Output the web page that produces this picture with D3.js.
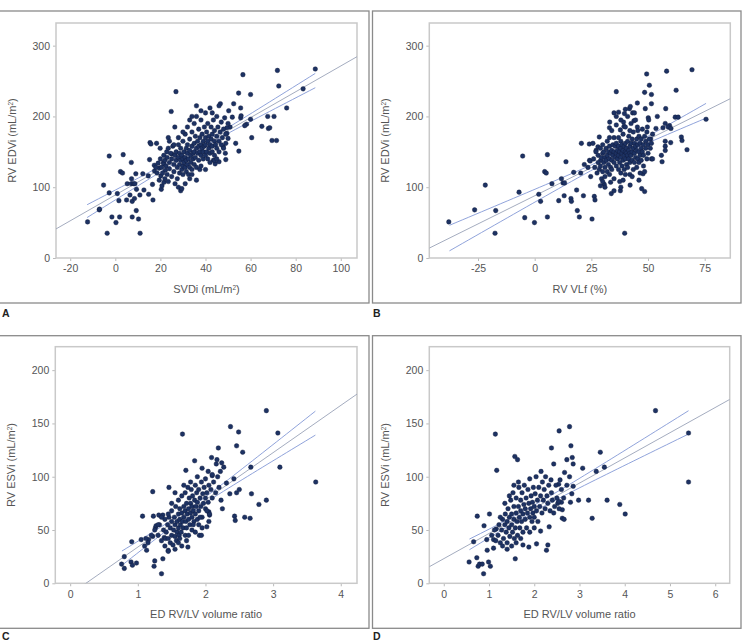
<!DOCTYPE html>
<meta charset="utf-8">
<html>
<head>
  <title>RV volume scatter plots</title>
  <style>
    body { margin: 0; background: #fff; }
    svg { display: block; font-family: "Liberation Sans", Arial, sans-serif; }
    .tick text { fill: #555; font-size: 10.5px; }
    .tick line, .domain { stroke: #bbb; }
  </style>
</head>
<body>
<svg id="chart" width="745" height="641"></svg>
<script src="https://d3js.org/d3.v7.min.js"></script>
<script>

// --- data ---
// A: SVDi vs RV EDVi
const ptsA = [
  [-12.3,51],[-7.1,68],[-7.0,69],[-3.6,35],[-5.2,103],[-2.7,144],[-2.7,92],[-1.5,58],[0.3,50],[0.9,91],
  [1.6,81],[1.9,58],[2.3,122],[3.2,120],[3.5,146],[5,82],[5.3,105],[6.5,89],[7.1,135],[7.2,112],
  [7.1,105],[8.1,105],[8.7,105],[7.5,80],[7.5,58],[8.5,84],[9.1,119],[9.4,97],[9.3,67],[10.3,55],
  [11,35],[10.9,89],[12.2,119],[12.7,96],[14.6,116],[14.8,90],[15.2,139],[15.4,163],[15.8,161],[16.7,82],
  [16.5,104],[17.3,131],[17.4,123],[18.3,162],[19.5,127],[19.9,155],[20.2,116],[20.4,97],[20.7,102],[21.3,135],
  [21.5,133],[21.6,107],[22.2,124],[22.8,150],[23.5,170],[23.5,108],[24.8,207],[25.1,147],[26.4,185],[26.9,235],
  [56.6,259],[71.9,265],[88.7,267],[72.5,243],[54.7,233],[60,231],[83.3,239],[76,212],[52.5,218],[46.6,218],
  [50.3,208],[55.6,212],[67.6,200],[70.4,200],[60,196],[55.6,198],[55.8,201],[51.9,199],[65,186],[67.9,183],
  [68.5,184],[58.2,189],[57.4,187],[50.9,185],[49.5,184],[60.5,170],[69.5,166],[71.5,166],[54.8,151],[53.4,162],
  [50,169],[49.5,176],[48.8,148],[49,139],[46,136],[47.9,157],[43.5,138],[44.3,133],
  [18,128],[18.5,120],[19,134],[19.5,110],[20,140],[20.5,128],[21,120],[21.5,145],[22,112],[22,138],
  [22.5,130],[23,142],[23,118],[23.5,155],[24,135],[24,126],[24.5,148],[25,140],[25,115],[25.5,158],
  [26,132],[26,122],[26.5,145],[26.5,105],[27,150],[27,138],[27.5,128],[27.5,112],[28,160],[28,142],
  [28.5,132],[28.5,120],[28.5,148],[29,138],[29,155],[29,95],[29.5,125],[29.5,145],[30,130],[30,140],
  [30,165],[30,118],[30.5,150],[30.5,135],[31,128],[31,142],[31,175],[31.5,122],[31.5,155],[31.5,138],
  [32,148],[32,132],[32,160],[32,185],[32.5,140],[32.5,118],[33,152],[33,128],[33,168],[33,195],
  [33.5,145],[33.5,135],[34,158],[34,125],[34,178],[34.5,148],[34.5,140],[35,162],[35,132],[35,190],
  [35,150],[35.5,172],[35.5,142],[36,155],[36,128],[36,200],[36.5,165],[36.5,148],[37,138],[37,158],
  [37,182],[37.5,150],[37.5,170],[37.5,125],[38,160],[38,145],[38,195],[38.5,155],[38.5,175],[39,140],
  [39,165],[39,150],[39.5,185],[39.5,158],[40,145],[40,170],[40,160],[40,205],[40.5,150],[40.5,178],
  [41,165],[41,140],[41,190],[41.5,155],[41.5,172],[42,160],[42,148],[42,212],[42.5,168],[42.5,185],
  [43,150],[43,175],[43,158],[43.5,195],[44,165],[44,145],[44,180],[44.5,160],[45,172],[45,155],
  [45,200],[45.5,185],[46,165],[46,150],[46,215],[46.5,178],[47,160],[47,192],[47.5,170],[48,182],
  [48,155],[48.5,198],[49,175],[49,162],[50,190],[36,110],[33,112],[31,105],[28,100],[29.5,98],
  [34,118],[38,130],[40,125],[42,135],[44,138],[45,140],[36,215],[38,208],[43,205],[34,200],
  [30,178],[28,170],[26,160],[24,165]
];

// B: RV VLf vs RV EDVi
const ptsB = [
  [-37.9,51],[-26.5,68],[-21.8,103],[-17.2,67],[-17.5,35],[-6.9,93],[-5.3,144],[-4.4,57],[-0.1,50],[1.8,90],
  [2.6,80],[4.4,122],[5.1,120],[5.6,146],[5.6,58],[7.6,105],[10.6,81],[11.8,112],[12.5,106],[13.2,106],
  [13,88],[13.8,136],[16,84],[16.2,80],[17.2,121],[18.5,96],[18.8,67],[19.7,58],[20.3,120],[20.6,162],
  [21.5,88],[21.9,132],[23.5,128],[24.2,138],[24.5,137],[24.1,161],[24.7,115],[25.3,55],[25.7,162],[26.3,87],
  [26.6,82],[27.1,152],[27.9,157],[28.5,171],[29.1,138],[30.7,104],
  [36,235],[37,206],[49.4,260],[58.2,264],[69.4,266],[50.6,244],[51.5,231],[48.5,234],[51.5,218],[48.8,211],
  [45.3,219],[41.8,211],[42.2,214],[43.2,205],[39.6,204],[39.2,192],[39.4,186],[37.8,181],[33.1,192],[33,184],
  [54.1,200],[50.1,198],[62,199],[63.3,199],[57.8,211],[62.4,237],[57.6,190],[59.5,187],[58.9,185],[60.1,183],
  [56.6,184],[49.7,185],[50.3,195],[53.5,183],[45.3,185],[43.8,194],[60,163],[57.6,165],[57.6,158],[57.6,152],
  [55.9,145],[56.2,136],[51.5,140],[51.2,168],[64.7,171],[65,166],[67.2,153],[75.6,196],[47.8,119],[48.5,94],
  [47.2,98],[42.1,103],[39.7,35],[33.8,91],[37.8,95],[33.5,107],
  [26,140],[26.5,128],[27,150],[27.5,120],[28,135],[28,145],[28.5,125],[29,155],[29,130],[29.5,112],
  [29.5,142],[30,148],[30,122],[30,160],[30.5,135],[30.5,150],[31,142],[31,128],[31,100],[31.5,155],
  [31.5,138],[32,145],[32,122],[32,165],[32.5,150],[32.5,132],[33,140],[33,158],[33,118],[33,170],
  [33.5,148],[33.5,128],[34,152],[34,138],[34,125],[34,180],[34.5,145],[34.5,160],[35,135],[35,150],
  [35,112],[35,170],[35.5,142],[35.5,158],[36,148],[36,130],[36,162],[36,188],[36.5,140],[36.5,152],
  [37,145],[37,125],[37,170],[37,158],[37.5,135],[37.5,150],[37.5,108],[38,155],[38,142],[38,165],
  [38,120],[38,195],[38.5,148],[38.5,130],[38.5,160],[39,152],[39,138],[39,175],[39,110],[39.5,145],
  [39.5,158],[39.5,125],[40,150],[40,140],[40,162],[40,185],[40,118],[40.5,155],[40.5,132],[40.5,148],
  [41,145],[41,165],[41,128],[41,200],[41.5,152],[41.5,140],[41.5,172],[42,158],[42,135],[42,148],
  [42,118],[42.5,162],[42.5,145],[42.5,190],[43,150],[43,138],[43,168],[43.5,155],[43.5,125],[43.5,178],
  [44,148],[44,162],[44,135],[44.5,158],[44.5,142],[44.5,195],[45,152],[45,168],[45,128],[45.5,160],
  [45.5,140],[45.5,180],[46,150],[46,135],[46,172],[46.5,162],[46.5,145],[46.5,120],[47,155],[47,168],
  [47,138],[47.5,150],[47.5,182],[48,160],[48,130],[48,145],[48.5,172],[48.5,122],[49,155],[49,165],
  [49.5,140],[49.5,178],[50,160],[50,148],[50.5,168],[51,155],[51.5,162],[52,140],[52,175],[36,200],
  [35,205],[40,210],[44,205],[42,180],[31,115],[30,108],[29,102],[35,95],[43,115],[46,110],[38,100]
];

// C: ED RV/LV volume ratio vs RV ESVi
const ptsC = [
  [0.76,18],[0.8,25],[0.8,14],[0.9,20],[0.92,17],[0.91,39],[0.98,19],[1.05,41],[1.07,63],[1.1,35],
  [1.13,31],[1.16,41],[1.22,44],[1.22,86],[1.23,63],[1.24,16],[1.25,21],[1.26,52],[1.27,54],[1.37,23],
  [1.35,9],[1.31,64],[1.37,64],[1.39,43],[1.41,42],[1.46,90],[1.45,31],[1.66,140],[1.71,106],[1.74,34],
  [1.84,115],[1.95,108],[2.04,105],[2.09,118],[2.1,101],[2.16,112],[2.17,116],[2.19,127],[2.24,113],[2.27,109],
  [2.31,94],[2.37,147],[2.23,78],[2.25,70],[2.36,84],[2.42,98],[2.43,63],[2.44,59],[2.46,85],[2.46,129],
  [2.49,142],[2.5,88],[2.55,123],[2.58,62],[2.66,61],[2.67,109],[2.68,84],[2.79,74],[2.9,162],[2.9,78],
  [3.07,141],[3.1,109],[3.63,95],[2.05,67],[2.06,64],[2.02,53],[1.91,45],[1.94,45],
  [1.3,45],[1.32,55],[1.35,40],[1.38,50],[1.4,60],[1.4,35],[1.42,48],[1.44,55],[1.45,42],[1.46,62],
  [1.48,38],[1.48,52],[1.5,45],[1.5,58],[1.5,68],[1.52,36],[1.53,50],[1.54,62],[1.55,44],[1.55,55],
  [1.56,72],[1.57,40],[1.58,58],[1.58,48],[1.6,65],[1.6,52],[1.6,78],[1.61,45],[1.62,60],[1.62,70],
  [1.63,55],[1.64,48],[1.65,66],[1.65,82],[1.66,58],[1.67,52],[1.68,72],[1.68,62],[1.7,45],[1.7,68],
  [1.7,85],[1.71,58],[1.72,75],[1.72,52],[1.73,65],[1.74,90],[1.75,60],[1.75,70],[1.76,80],[1.77,55],
  [1.78,66],[1.78,75],[1.79,88],[1.8,62],[1.8,72],[1.8,50],[1.81,82],[1.82,68],[1.83,58],[1.84,78],
  [1.85,92],[1.85,65],[1.86,72],[1.87,85],[1.88,60],[1.88,76],[1.9,68],[1.9,88],[1.9,55],[1.92,80],
  [1.93,72],[1.94,95],[1.95,62],[1.96,84],[1.97,75],[1.98,90],[2,70],[2,80],[2,98],[2.02,85],
  [2.04,76],[2.05,92],[2.06,65],[2.08,88],[2.1,80],[2.1,102],[2.12,95],[2.15,85],[2.18,100],[2.2,90],
  [2.22,105],[1.45,30],[1.55,32],[1.6,38],[1.65,35],[1.75,45],[1.85,48],[1.95,52],[2.05,58],[1.5,75],
  [1.55,85],[1.45,65],[1.35,62],[1.3,55],[1.25,50],[1.2,45],[1.15,38],[1.12,42],[1.68,92],[1.78,95],
  [1.88,100],[1.72,40],[1.62,42],[1.82,55],[1.92,62],[2.02,68]
];

// D: ED RV/LV volume ratio vs RV ESVi
const ptsD = [
  [0.56,20],[0.66,39],[0.74,63],[0.73,24],[0.76,16],[0.79,18],[0.88,9],[0.85,18],[0.89,54],[0.95,41],
  [0.96,31],[0.99,20],[1.01,65],[1.03,16],[1.06,45],[1.1,41],[1.14,140],[1.17,106],[1.16,51],[1.1,33],
  [1.57,119],[1.63,116],[1.58,23],[1.75,36],[1.88,34],[2.05,37],[2.27,31],[2.3,36],[2.14,49],[2.33,53],
  [2.37,97],[2.43,112],[2.38,127],[2.55,143],[2.57,97],[2.54,93],[2.67,104],[2.72,116],[2.78,147],[2.81,129],
  [2.84,118],[2.86,112],[2.83,84],[2.86,91],[2.72,92],[2.78,100],[2.6,76],[2.52,75],[2.62,69],[2.62,61],
  [2.66,60],[2.43,66],[2.54,77],[2.8,76],[2.98,78],[3.07,108],[3.2,78],[3.28,61],[3.37,105],[3.46,123],
  [3.55,109],[3.61,78],[3.89,74],[4.01,65],[4.68,162],[5.41,141],[5.41,95],
  [1.2,45],[1.22,55],[1.25,38],[1.28,50],[1.3,60],[1.32,42],[1.35,55],[1.36,65],[1.38,48],[1.4,58],
  [1.4,38],[1.42,70],[1.44,52],[1.45,62],[1.46,44],[1.48,78],[1.5,55],[1.5,65],[1.52,48],[1.53,85],
  [1.55,60],[1.55,72],[1.56,42],[1.58,52],[1.6,66],[1.6,80],[1.62,58],[1.63,45],[1.65,72],[1.66,90],
  [1.67,62],[1.68,52],[1.7,78],[1.7,68],[1.72,58],[1.73,85],[1.75,65],[1.75,48],[1.77,74],[1.78,92],
  [1.8,60],[1.8,70],[1.82,80],[1.83,52],[1.85,66],[1.86,88],[1.88,75],[1.9,62],[1.9,98],[1.92,70],
  [1.93,82],[1.95,58],[1.96,76],[1.97,66],[1.98,90],[2,72],[2,62],[2.02,84],[2.04,100],[2.05,68],
  [2.07,78],[2.08,58],[2.1,90],[2.12,72],[2.14,82],[2.15,105],[2.17,66],[2.18,95],[2.2,78],[2.22,88],
  [2.24,70],[2.25,100],[2.28,82],[2.3,75],[2.32,92],[2.35,68],[2.38,85],[2.4,78],[1.3,35],[1.4,32],
  [1.5,35],[1.6,38],[1.7,42],[1.35,75],[1.45,82],[1.25,62],[1.15,40],[1.12,50],[1.9,48],[2,52],
  [1.65,95],[1.55,92],[2.45,72],[2.5,80],[2.55,70],[2.48,92],[2.6,88],[2.65,80]
];

// regression line: [intercept, slope]
const fitA = [89, 1.823];
const fitB = [87.9, 1.589];
const fitC = [-10.3, 44.3];
const fitD = [23.1, 23.64];

// mean-CI band: [xFrom, xTo, xMean, halfWidthAtMean, growth]
const ciA = [-12.5, 88.7, 35, 3, 0.18];
const ciB = [-37.6, 75.6, 35, 3, 0.245];
const ciC = [0.765, 3.625, 1.8, 2.5, 6];
const ciD = [0.567, 5.41, 1.9, 3, 3];

const ticksA = [-20, 0, 20, 40, 60, 80, 100];
const ticksB = [-25, 0, 25, 50, 75];
const ticksC = [0, 1, 2, 3, 4];
const ticksD = [0, 1, 2, 3, 4, 5, 6];
const ticksEDV = [0, 100, 200, 300];
const ticksESV = [0, 50, 100, 150, 200];

// --- layout ---
const panels = [
  { id: "A", pts: ptsA, fit: fitA, ci: ciA, xt: ticksA, yt: ticksEDV,
    xd: [-26.3, 107.2], yd: [0, 332], box: [56, 357, 23, 258],
    frame: [-2, 369, 11, 303], letter: [2, 317],
    xlab: "SVDi (mL/m", xsup: true, ylab: "RV EDVi (mL/m" },
  { id: "B", pts: ptsB, fit: fitB, ci: ciB, xt: ticksB, yt: ticksEDV,
    xd: [-46.5, 86.3], yd: [0, 332], box: [429.3, 730.3, 23, 258],
    frame: [372.5, 741, 11, 303], letter: [373, 317],
    xlab: "RV VLf (%)", xsup: false, ylab: "RV EDVi (mL/m" },
  { id: "C", pts: ptsC, fit: fitC, ci: ciC, xt: ticksC, yt: ticksESV,
    xd: [-0.22, 4.24], yd: [0, 222], box: [55.3, 357, 346.7, 583.3],
    frame: [-2, 369, 335.7, 628.3], letter: [2, 640],
    xlab: "ED RV/LV volume ratio", xsup: false, ylab: "RV ESVi (mL/m" },
  { id: "D", pts: ptsD, fit: fitD, ci: ciD, xt: ticksD, yt: ticksESV,
    xd: [-0.32, 6.32], yd: [0, 222], box: [429.3, 729.7, 346.7, 583.3],
    frame: [372.5, 741, 335.7, 628.3], letter: [373, 640],
    xlab: "ED RV/LV volume ratio", xsup: false, ylab: "RV ESVi (mL/m" }
];

const svg = d3.select("#chart");

panels.forEach(p => {
  const [l, r, t, b] = p.box;
  const x = d3.scaleLinear().domain(p.xd).range([l, r]);
  const y = d3.scaleLinear().domain(p.yd).range([b, t]);

  // outer frame
  const [fl, fr, ft, fb] = p.frame;
  svg.append("rect")
    .attr("x", fl).attr("y", ft)
    .attr("width", fr - fl).attr("height", fb - ft)
    .attr("fill", "none").attr("stroke", "#8a8a8a").attr("stroke-width", 1.3);

  svg.append("text")
    .attr("x", p.letter[0]).attr("y", p.letter[1])
    .attr("font-size", 10.5).attr("font-weight", "bold").attr("fill", "#222")
    .text(p.id);

  const clipId = "clip" + p.id;
  svg.append("clipPath").attr("id", clipId)
    .append("rect").attr("x", l).attr("y", t).attr("width", r - l).attr("height", b - t);

  // axes (plain hyphen for negatives, as in the figure)
  svg.append("g")
    .attr("transform", `translate(0,${b})`)
    .call(d3.axisBottom(x).tickValues(p.xt).tickSize(3).tickPadding(4).tickFormat(d => String(d)))
    .call(g => g.select(".domain").remove());
  svg.append("g")
    .attr("transform", `translate(${l},0)`)
    .call(d3.axisLeft(y).tickValues(p.yt).tickSize(3).tickPadding(3).tickFormat(d => String(d)))
    .call(g => g.select(".domain").remove());

  // plot border
  svg.append("rect")
    .attr("x", l).attr("y", t).attr("width", r - l).attr("height", b - t)
    .attr("fill", "none").attr("stroke", "#c9c9c9").attr("stroke-width", 1.5);

  const g = svg.append("g").attr("clip-path", `url(#${clipId})`);

  // fit line across the whole plot
  const [b0, b1] = p.fit;
  g.append("line")
    .attr("x1", x(p.xd[0])).attr("y1", y(b0 + b1 * p.xd[0]))
    .attr("x2", x(p.xd[1])).attr("y2", y(b0 + b1 * p.xd[1]))
    .attr("stroke", "#9aa3b8").attr("stroke-width", 0.9);

  // CI band lines
  const [c0, c1, xm, h0, k] = p.ci;
  const xs = d3.range(0, 41).map(i => c0 + (c1 - c0) * i / 40);
  const hw = v => Math.sqrt(h0 * h0 + k * k * (v - xm) * (v - xm));
  [1, -1].forEach(sgn => {
    g.append("path")
      .datum(xs)
      .attr("fill", "none").attr("stroke", "#8398d6").attr("stroke-width", 0.9)
      .attr("d", d3.line().x(v => x(v)).y(v => y(b0 + b1 * v + sgn * hw(v))));
  });

  // points
  g.selectAll("circle.pt")
    .data(p.pts)
    .join("circle")
    .attr("class", "pt")
    .attr("cx", d => x(d[0]))
    .attr("cy", d => y(d[1]))
    .attr("r", 2.3)
    .attr("fill", "#1d3263")
    .attr("stroke", "#0e1a3a").attr("stroke-width", 0.4);

  // axis titles
  const xt = svg.append("text")
    .attr("x", (l + r) / 2).attr("y", b + 35)
    .attr("text-anchor", "middle").attr("font-size", 11).attr("fill", "#555")
    .text(p.xlab);
  if (p.xsup) {
    xt.append("tspan").attr("font-size", 6.5).attr("baseline-shift", "super").text("2");
    xt.append("tspan").text(")");
  }
  const yt = svg.append("text")
    .attr("transform", `translate(${l - 40},${(t + b) / 2}) rotate(-90)`)
    .attr("text-anchor", "middle").attr("font-size", 11).attr("fill", "#555")
    .text(p.ylab);
  yt.append("tspan").attr("font-size", 6.5).attr("baseline-shift", "super").text("2");
  yt.append("tspan").text(")");
});

</script>
</body>
</html>
